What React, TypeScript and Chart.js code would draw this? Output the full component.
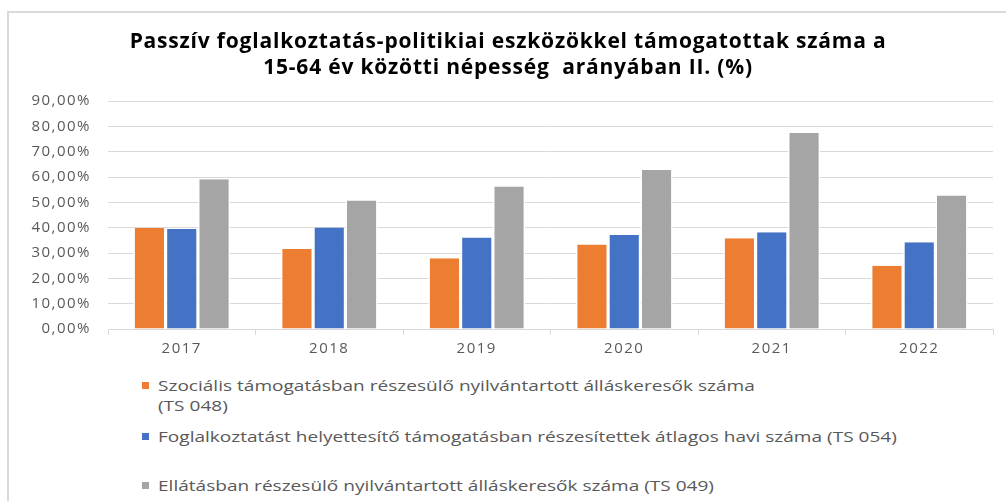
import React, { useEffect, useRef } from 'react';
import { Chart, registerables } from 'chart.js';

Chart.register(...registerables);

const years = ['2017', '2018', '2019', '2020', '2021', '2022'];
const szocialis = [39.9, 31.6, 27.9, 33.4, 35.8, 25.0];
const foglalkoztatast = [39.5, 40.1, 36.1, 37.1, 38.2, 34.3];
const ellatasban = [59.1, 50.7, 56.3, 62.8, 77.4, 52.7];
const yMin = 0;
const yMax = 90;
const yStep = 10;
const seriesNames = [
  'Szociális támogatásban részesülő nyilvántartott álláskeresők száma (TS 048)',
  'Foglalkoztatást helyettesítő támogatásban részesítettek átlagos havi száma (TS 054)',
  'Ellátásban részesülő nyilvántartott álláskeresők száma (TS 049)',
];
const legendLines = [
  ['Szociális támogatásban részesülő nyilvántartott álláskeresők száma', '(TS 048)'],
  ['Foglalkoztatást helyettesítő támogatásban részesítettek átlagos havi száma (TS 054)'],
  ['Ellátásban részesülő nyilvántartott álláskeresők száma (TS 049)'],
];
const titleLines = [
  'Passzív foglalkoztatás-politikiai eszközökkel támogatottak száma a',
  '15-64 év közötti népesség  arányában II. (%)',
];
const colors = ['#ED7D31', '#4472C4', '#A5A5A5'];

const spacingPlugin = {
  id: 'letterSpacing',
  beforeDraw(chart: any) {
    try {
      chart.ctx.letterSpacing = '0.8px';
    } catch (e) {}
  },
  afterDatasetsDraw(chart: any) {
    try {
      chart.ctx.letterSpacing = '1.5px';
    } catch (e) {}
  },
  afterDraw(chart: any) {
    try {
      chart.ctx.letterSpacing = '0px';
    } catch (e) {}
  },
};

function ChartCanvas() {
  const ref = useRef<HTMLCanvasElement | null>(null);
  useEffect(() => {
    if (!ref.current) return;
    const data = [szocialis, foglalkoztatast, ellatasban];
    const chart = new Chart(ref.current, {
      type: 'bar',
      data: {
        labels: years,
        datasets: data.map((d, i) => ({
          label: seriesNames[i],
          data: d,
          backgroundColor: colors[i],
          borderColor: '#ffffff',
          borderWidth: { left: 1.6, right: 1.6, top: 0, bottom: 0 },
          borderSkipped: false,
          categoryPercentage: 0.657,
          barPercentage: 1,
        })),
      },
      plugins: [spacingPlugin],
      options: {
        animation: false,
        responsive: true,
        maintainAspectRatio: false,
        layout: { padding: { top: 29, right: 13, bottom: 0, left: 23 } },
        plugins: {
          legend: { display: false },
          tooltip: { enabled: false },
          title: {
            display: true,
            text: titleLines,
            color: '#000000',
            font: { family: 'Open Sans', size: 21, weight: 'bold', lineHeight: 1.24 },
            padding: { top: 0, bottom: 20 },
          },
        },
        scales: {
          x: {
            offset: true,
            afterFit: (scale: any) => {
              scale.height = 41;
            },
            grid: {
              display: true,
              offset: true,
              drawOnChartArea: false,
              drawTicks: true,
              tickLength: 6,
              color: '#d9d9d9',
            },
            border: { display: true, color: '#d9d9d9', width: 1 },
            ticks: {
              z: 1,
              color: '#595959',
              font: { family: 'Open Sans', size: 15 },
              padding: 5,
              maxRotation: 0,
            },
          },
          y: {
            min: yMin,
            max: yMax,
            afterFit: (scale: any) => {
              scale.width = 85;
            },
            grid: { color: '#d9d9d9', drawTicks: false, lineWidth: 1 },
            border: { display: false },
            ticks: {
              z: 1,
              stepSize: yStep,
              color: '#595959',
              font: { family: 'Open Sans', size: 15 },
              padding: 17,
              callback: (v: any) => Number(v).toFixed(2).replace('.', ',') + '%',
            },
          },
        },
      },
    });
    return () => chart.destroy();
  }, []);
  return <canvas ref={ref} />;
}

export default function App() {
  const legendTops = [375, 426, 475];
  return (
    <div
      style={{
        position: 'fixed',
        left: 0,
        top: 0,
        width: 1006,
        height: 501,
        background: '#ffffff',
        overflow: 'hidden',
      }}
    >
      <div
        style={{
          position: 'absolute',
          left: 7,
          top: 11,
          width: 1010,
          height: 500,
          borderTop: '2px solid #d9d9d9',
          borderLeft: '2px solid #d9d9d9',
        }}
      />
      <div style={{ position: 'absolute', left: 0, top: 0, width: 1006, height: 370 }}>
        <ChartCanvas />
      </div>
      {legendLines.map((lines, i) => (
        <div
          key={i}
          style={{
            position: 'absolute',
            left: 142,
            top: legendTops[i],
            fontFamily: 'Open Sans',
            fontSize: 15,
            lineHeight: '20px',
            color: '#595959',
            whiteSpace: 'nowrap',
          }}
        >
          <span
            style={{
              position: 'absolute',
              left: 0,
              top: 7,
              width: 7,
              height: 7,
              background: colors[i],
            }}
          />
          <div style={{ marginLeft: 16, transform: 'scaleX(1.27)', transformOrigin: 'left top' }}>
            {lines.map((l, j) => (
              <div key={j}>{l}</div>
            ))}
          </div>
        </div>
      ))}
    </div>
  );
}
